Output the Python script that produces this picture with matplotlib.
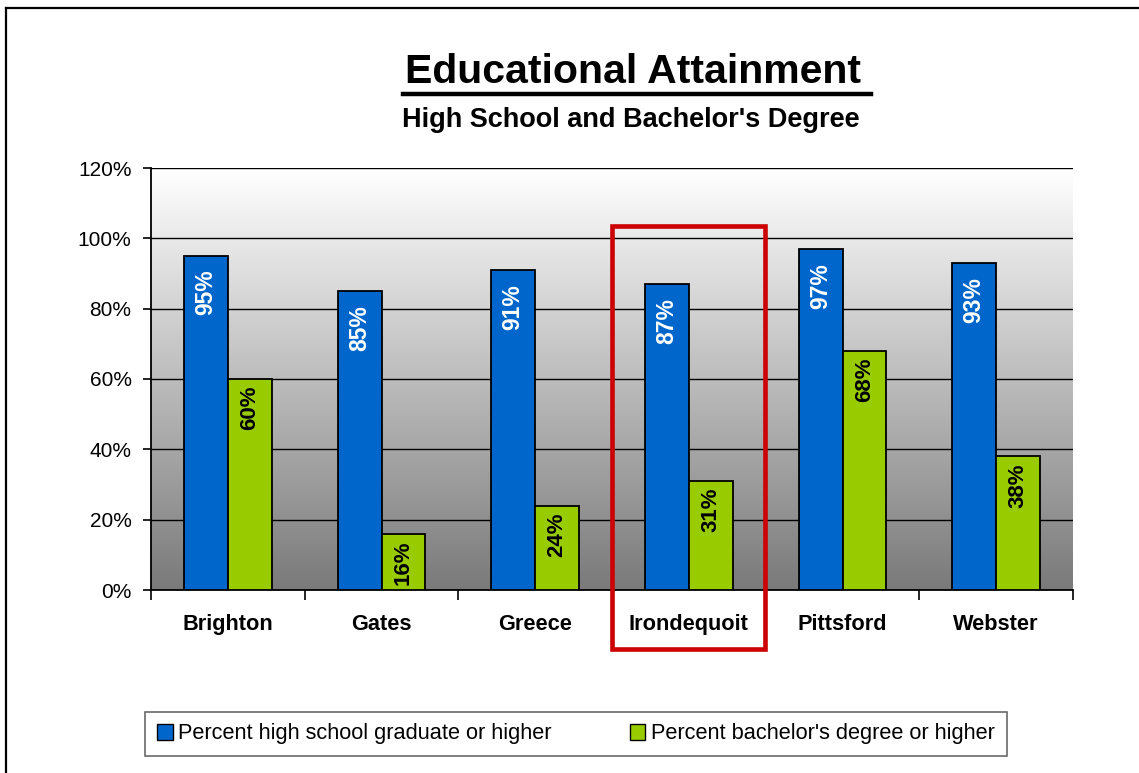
import numpy as np
import matplotlib
matplotlib.use("Agg")
import matplotlib.pyplot as plt
from matplotlib.lines import Line2D
from matplotlib.patches import Rectangle, Patch

plt.rcParams['font.family'] = ['Liberation Sans', 'DejaVu Sans']

towns = ["Brighton", "Gates", "Greece", "Irondequoit", "Pittsford", "Webster"]
high_school = [95, 85, 91, 87, 97, 93]
bachelors = [60, 16, 24, 31, 68, 38]
series_names = ["Percent high school graduate or higher",
                "Percent bachelor's degree or higher"]
y_ticks = [0, 20, 40, 60, 80, 100, 120]

W, H = 1139, 773
fig = plt.figure(figsize=(W / 100, H / 100), dpi=100)
fig.patch.set_facecolor("white")

def fx(px):
    return px / W

def fy(py):
    return 1 - py / H

ax = fig.add_axes([fx(151), fy(590), fx(1073) - fx(151), fy(168) - fy(590)])

# vertical grey gradient behind the bars
grad = np.linspace(0, 1, 256).reshape(-1, 1)
ax.imshow(grad, extent=[-0.5, len(towns) - 0.5, 0, 120], aspect="auto",
          cmap=matplotlib.colors.LinearSegmentedColormap.from_list(
              "bg", ["#7a7a7a", "#ffffff"]),
          origin="lower", zorder=0, interpolation="bicubic")

x = np.arange(len(towns))
bw = 0.286
b1 = ax.bar(x - bw / 2, high_school, bw, color="#0066cc", edgecolor="black",
            linewidth=1.3, zorder=3)
b2 = ax.bar(x + bw / 2, bachelors, bw, color="#99cc00", edgecolor="black",
            linewidth=1.3, zorder=3)

for rect, v in zip(b1, high_school):
    ax.annotate(f"{v}%", (rect.get_x() + rect.get_width() / 2, v),
                xytext=(0, -10), textcoords="offset points", rotation=90,
                ha="center", va="top", color="white", fontsize=16.5,
                fontweight="bold", zorder=4)
for rect, v in zip(b2, bachelors):
    ax.annotate(f"{v}%", (rect.get_x() + rect.get_width() / 2, v),
                xytext=(0, -5), textcoords="offset points", rotation=90,
                ha="center", va="top", color="black", fontsize=16,
                fontweight="bold", zorder=4)

ax.set_xlim(-0.5, len(towns) - 0.5)
ax.set_ylim(0, 120)
ax.set_yticks(y_ticks)
ax.set_yticklabels([f"{t}%" for t in y_ticks], fontsize=15)
for t in y_ticks[1:]:
    ax.axhline(t, color="black", linewidth=1.0, zorder=1)

ax.set_xticks(x)
ax.set_xticklabels(towns, fontsize=15.7, fontweight="bold")
ax.set_xticks(np.arange(-0.5, len(towns)), minor=True)
ax.tick_params(axis="x", which="major", length=0, pad=17)
ax.tick_params(axis="x", which="minor", length=7, width=1.2, direction="out")
ax.tick_params(axis="y", length=6, width=1.2, direction="out", pad=8)
for side in ("top", "right"):
    ax.spines[side].set_visible(False)
for side in ("left", "bottom"):
    ax.spines[side].set_linewidth(1.3)

# titles
fig.text(fx(633), fy(72), "Educational Attainment", ha="center", va="center",
         fontsize=29.5, fontweight="bold")
fig.add_artist(Line2D([fx(403), fx(871)], [fy(94), fy(94)], color="black",
                      linewidth=3.2))
fig.text(fx(631), fy(120), "High School and Bachelor's Degree", ha="center",
         va="center", fontsize=19.5, fontweight="bold")

# highlight box around Irondequoit
fig.add_artist(Rectangle((fx(612), fy(649)), fx(765) - fx(612),
                         fy(226) - fy(649), fill=False, edgecolor="#cc0000",
                         linewidth=3.3))

# outer border lines
fig.add_artist(Line2D([fx(6), fx(1139)], [fy(8), fy(8)], color="black",
                      linewidth=1.6))
fig.add_artist(Line2D([fx(6), fx(6)], [fy(8), fy(773)], color="black",
                      linewidth=1.6))

handles = [Patch(facecolor="#0066cc", edgecolor="black", linewidth=1.0),
           Patch(facecolor="#99cc00", edgecolor="black", linewidth=1.0)]
leg = fig.legend(handles, series_names, loc="center",
                 bbox_to_anchor=(fx(576), fy(734)), ncol=2, fontsize=15.7,
                 frameon=True, fancybox=False, handlelength=0.7,
                 handleheight=0.7, handletextpad=0.25, columnspacing=3.6,
                 borderpad=0.55)
leg.get_frame().set_edgecolor("#444444")
leg.get_frame().set_linewidth(1.2)

fig.savefig("out.png", dpi=100)
